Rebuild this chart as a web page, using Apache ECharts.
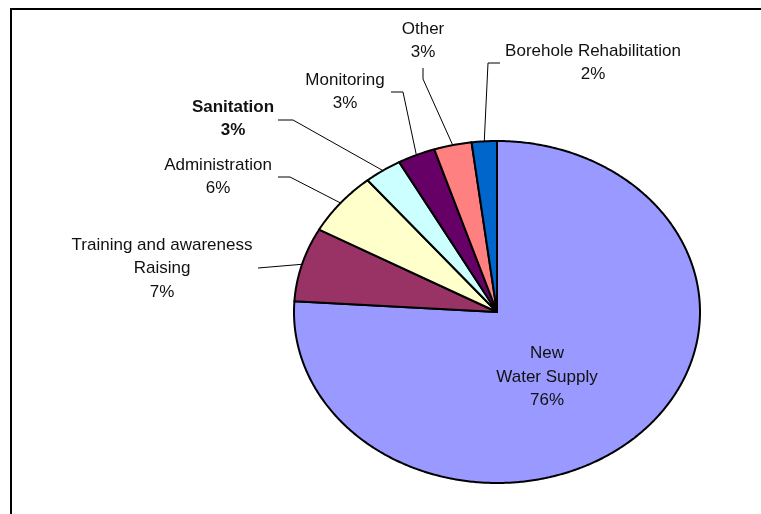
<!DOCTYPE html>
<html lang="en" style="height: 100%">
<head>
  <meta charset="utf-8">
</head>
<body style="height: 100%; margin: 0; background: #fff">
<div id="container" style="width: 761px; height: 514px"></div>

<script type="text/javascript" src="https://cdn.jsdelivr.net/npm/echarts@6/dist/echarts.min.js"></script>
<script type="text/javascript">
  // slices, clockwise from 12 o'clock
  var categories = ['New\nWater Supply', 'Training and awareness\nRaising', 'Administration',
    'Sanitation', 'Monitoring', 'Other', 'Borehole Rehabilitation'];
  var shares = [76, 7, 6, 3, 3, 3, 2];

  var colors = ['#9999FF', '#993366', '#FFFFCC', '#CCFFFF', '#660066', '#FF8080', '#0066CC'];
  // label block centres (px) and leader elbows (px); leader ends on the slice rim
  var labelPos = [[547, 377], [162, 268.5], [218, 177], [233, 119], [345, 92], [423, 41], [593, 63]];
  var leaders = [[], [[258, 268]], [[278, 177], [290, 177]], [[278, 120], [293, 120]],
    [[391, 92], [403, 92]], [[423, 68], [423, 79]], [[500, 63], [488, 63]]];

  var total = shares.reduce(function (a, b) { return a + b; }, 0);
  var starts = [];
  var acc = 0;
  shares.forEach(function (v) { starts.push(acc); acc += v; });

  var dom = document.getElementById('container');
  var myChart = echarts.init(dom, null, { renderer: 'canvas' });

  function rim(api, frac) {
    var a = frac * Math.PI * 2;
    return api.coord([Math.sin(a), Math.cos(a)]);
  }

  var option = {
    animation: false,
    backgroundColor: '#fff',
    grid: { left: 294, top: 141, width: 406, height: 342 },
    xAxis: { type: 'value', min: -1, max: 1, show: false },
    yAxis: { type: 'value', min: -1, max: 1, show: false },
    graphic: [{
      type: 'polyline',
      shape: { points: [[11, 514], [11, 9], [761, 9]] },
      style: { stroke: '#000', lineWidth: 2, fill: null }
    }],
    series: [{
      type: 'custom',
      data: shares.map(function (v) { return [v]; }),
      renderItem: function (params, api) {
        var i = params.dataIndex;
        var f0 = starts[i] / total;
        var f1 = (starts[i] + shares[i]) / total;
        var pts = [api.coord([0, 0])];
        var steps = Math.max(2, Math.ceil((f1 - f0) * 720));
        for (var k = 0; k <= steps; k++) {
          pts.push(rim(api, f0 + (f1 - f0) * k / steps));
        }
        var children = [{
          type: 'polygon',
          shape: { points: pts },
          style: { fill: colors[i], stroke: '#000', lineWidth: 2, lineJoin: 'round' }
        }];
        if (leaders[i].length) {
          children.push({
            type: 'polyline',
            z2: 5,
            shape: { points: leaders[i].concat([rim(api, (f0 + f1) / 2)]) },
            style: { stroke: '#000', lineWidth: 1, fill: null }
          });
        }
        children.push({
          type: 'text',
          z2: 10,
          x: labelPos[i][0],
          y: labelPos[i][1],
          style: {
            text: categories[i] + '\n' + shares[i] + '%',
            fill: '#111',
            fontSize: 17,
            fontFamily: 'Liberation Sans, Arial, sans-serif',
            fontWeight: categories[i] === 'Sanitation' ? 'bold' : 'normal',
            align: 'center',
            verticalAlign: 'middle',
            lineHeight: 23.5
          }
        });
        return { type: 'group', children: children };
      }
    }]
  };

  myChart.setOption(option);
  window.addEventListener('resize', myChart.resize);
</script>
</body>
</html>
